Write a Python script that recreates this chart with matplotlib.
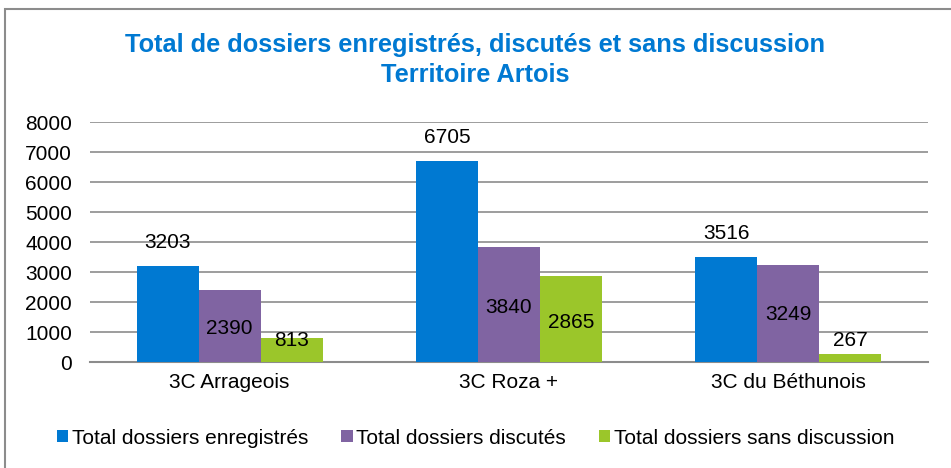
import numpy as np
import matplotlib.pyplot as plt
from matplotlib.patches import Rectangle

plt.rcParams['font.family'] = ['Liberation Sans', 'DejaVu Sans']

categories = ['3C Arrageois', '3C Roza +', '3C du Béthunois']
series_names = ['Total dossiers enregistrés', 'Total dossiers discutés',
                'Total dossiers sans discussion']
enregistres = [3203, 6705, 3516]
discutes = [2390, 3840, 3249]
sans_discussion = [813, 2865, 267]
# hauteur (en unités de données) où Excel a posé les étiquettes
label_y = [[3970, 7500, 4300],
           [1130, 1830, 1570],
           [730, 1330, 730]]
colors = ['#0079D2', '#8064A2', '#9BC62A']

fig = plt.figure(figsize=(9.51, 4.68), dpi=100)
ax = fig.add_axes([90 / 951, 1 - 362 / 468, 838 / 951, 240 / 468])

fs = 15
x = np.arange(len(categories))
w = 0.222
values = [enregistres, discutes, sans_discussion]
for i, (vals, col, name) in enumerate(zip(values, colors, series_names)):
    pos = x + (i - 1) * w
    ax.bar(pos, vals, width=w, color=col, label=name, zorder=3)
    for p, v, ly in zip(pos, vals, label_y[i]):
        ax.text(p, ly, str(v), ha='center', va='center', fontsize=fs,
                color='black', zorder=4)

ax.set_xlim(-0.5, 2.5)
ax.set_ylim(0, 8000)
ax.set_yticks(range(0, 8001, 1000))
ax.set_xticks(x)
ax.set_xticklabels(categories, fontsize=fs)
ax.tick_params(axis='y', labelsize=fs, length=0, pad=13)
ax.tick_params(axis='x', length=0, pad=8)
ax.grid(axis='y', color='#8c8c8c', linewidth=1.2, zorder=0)
for s in ['top', 'right', 'left']:
    ax.spines[s].set_visible(False)
ax.spines['bottom'].set_color('#8c8c8c')
ax.spines['bottom'].set_linewidth(1.5)

fig.text(0.5, 1 - 45 / 468, 'Total de dossiers enregistrés, discutés et sans discussion',
         ha='center', va='center', fontsize=18.3, fontweight='bold', color='#0079D2')
fig.text(0.5, 1 - 75 / 468, 'Territoire Artois',
         ha='center', va='center', fontsize=18.3, fontweight='bold', color='#0079D2')

fig.legend(loc='center', bbox_to_anchor=(0.5, 1 - 438 / 468), ncol=3, frameon=False,
           fontsize=fs, handlelength=0.55, handleheight=0.55, handletextpad=0.15,
           columnspacing=1.6)

fig.patches.append(Rectangle((5 / 951, -0.1), 1.2, 1 - 9 / 468 + 0.1,
                             transform=fig.transFigure, fill=False,
                             edgecolor='#8c8c8c', linewidth=1.5))

fig.savefig('out.png', dpi=100)
